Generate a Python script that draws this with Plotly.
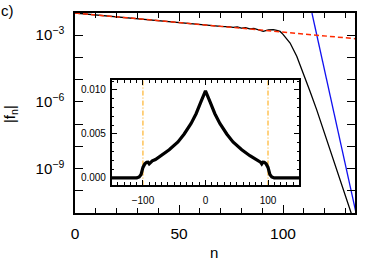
import plotly.graph_objects as go

# ---- main panel data (n, log10|f_n|) ----
n_main = [0, 10, 20, 30, 40, 50, 60, 70, 74.5, 76, 78, 80, 82, 84, 86, 88, 90.5, 93, 95.3, 97,
          98.6, 100, 103.4, 106.6, 109.8, 113, 116.2, 119.4, 122.6, 125.8, 129, 132.5, 134]
log_fn_main = [-2.0, -2.09, -2.17, -2.26, -2.34, -2.43, -2.51, -2.60, -2.62, -2.645, -2.63, -2.68,
               -2.665, -2.71, -2.695, -2.76, -2.83, -2.76, -2.75, -2.78,
               -2.83, -2.96, -3.35, -3.95, -4.70, -5.53, -6.36, -7.26, -8.16, -9.06, -9.96, -10.94, -11.35]

# red dashed asymptote
n_red = [0, 135]
log_fn_red = [-2.0, -3.16]

# blue line
n_blue = [113.9, 135.1]
log_fn_blue = [-2.0, -11.0]

# ---- inset data (n, f_n) ----
n_inset = [-150, -110, -106, -103, -100, -97, -94, -92, -90, -88, -85, -80, -71, -58, -44, -34, -23, -15, -7, 0,
           7, 15, 23, 34, 44, 58, 71, 80, 85, 88, 90, 92, 94, 97, 100, 103, 106, 110, 150]
f_inset = [0.0, 0.0, 0.00012, 0.0004, 0.0012, 0.0016, 0.00178, 0.0018, 0.0016, 0.0018, 0.00195, 0.0021,
           0.00253, 0.0032, 0.0041, 0.0050, 0.0062, 0.0073, 0.0087, 0.0099,
           0.0087, 0.0073, 0.0062, 0.0050, 0.0041, 0.0032, 0.00253, 0.0021, 0.00195, 0.0018, 0.0016,
           0.0018, 0.00178, 0.0016, 0.0012, 0.0004, 0.00012, 0.0, 0.0]
vlines_inset = [-100, 100]

main_ytick_exp = [-2, -3, -4, -5, -6, -7, -8, -9, -10, -11]
main_ytick_labels = {-3: "10<sup>−3</sup>", -6: "10<sup>−6</sup>", -9: "10<sup>−9</sup>"}
main_xticks = [0, 50, 100]
inset_xticks = [-100, 0, 100]
inset_yticks = [0.0, 0.005, 0.010]

FONT = "Liberation Sans"

fig = go.Figure()
fig.add_trace(go.Scatter(x=n_main, y=[10 ** v for v in log_fn_main], mode="lines",
                         line=dict(color="black", width=1.3), xaxis="x", yaxis="y"))
fig.add_trace(go.Scatter(x=n_blue, y=[10 ** v for v in log_fn_blue], mode="lines",
                         line=dict(color="#1010f0", width=1.3), xaxis="x", yaxis="y"))
fig.add_trace(go.Scatter(x=n_red, y=[10 ** v for v in log_fn_red], mode="lines",
                         line=dict(color="#ff2a00", width=1.5, dash="5px,3px"), xaxis="x", yaxis="y"))

for xv in vlines_inset:
    fig.add_trace(go.Scatter(x=[xv, xv], y=[-0.002, 0.012], mode="lines",
                             line=dict(color="#ffa500", width=1, dash="5px,2px,1px,2px"),
                             xaxis="x2", yaxis="y2"))
fig.add_trace(go.Scatter(x=n_inset, y=f_inset, mode="lines",
                         line=dict(color="black", width=3.2), xaxis="x2", yaxis="y2"))

axis_common = dict(showline=True, linecolor="black", linewidth=1.5, mirror="allticks",
                   ticks="inside", tickcolor="black", showgrid=False, zeroline=False,
                   automargin=False)

fig.update_layout(
    width=374, height=267,
    margin=dict(l=75, r=19, t=13, b=54, autoexpand=False),
    paper_bgcolor="white", plot_bgcolor="white",
    showlegend=False,
    font=dict(family=FONT, color="black"),
    xaxis=dict(**axis_common, range=[0, 134.6], tickvals=main_xticks, ticklen=8, tickwidth=1,
               minor=dict(dtick=10, ticklen=5, tickcolor="black", ticks="inside"),
               tickfont=dict(size=15.5), ticklabelstandoff=6),
    yaxis=dict(**axis_common, type="log", range=[-11, -2],
               tickvals=[10 ** e for e in main_ytick_exp],
               ticktext=[main_ytick_labels.get(e, "") for e in main_ytick_exp],
               ticklen=8, tickwidth=1, tickfont=dict(size=15), ticklabelstandoff=6),
    xaxis2=dict(**axis_common, domain=[0.131, 0.801], anchor="y2", range=[-150, 150],
                tickvals=inset_xticks, ticklen=5, tickwidth=1,
                minor=dict(dtick=10, ticklen=3, tickcolor="black", ticks="inside"),
                tickfont=dict(size=10), ticklabelstandoff=5),
    yaxis2=dict(**axis_common, domain=[0.14, 0.665], anchor="x2", range=[-0.0008, 0.01113],
                tickvals=inset_yticks, tickformat=".3f", ticklen=6, tickwidth=1,
                minor=dict(dtick=0.001, tick0=0, ticklen=3, tickcolor="black", ticks="inside"),
                tickfont=dict(size=10), ticklabelstandoff=2),
    annotations=[
        dict(text="n", xref="paper", yref="paper", x=0.496, y=-0.195, showarrow=False,
             font=dict(size=15), xanchor="center", yanchor="middle"),
        dict(text="|f<sub>n</sub>|", xref="paper", yref="paper", x=-0.232, y=0.495, showarrow=False,
             textangle=-90, font=dict(size=15), xanchor="center", yanchor="middle"),
        dict(text="c)", xref="paper", yref="paper", x=-0.24, y=1.01, showarrow=False,
             font=dict(size=15), xanchor="center", yanchor="middle"),
    ],
)

fig.write_html("out.html", config={"displayModeBar": False},
               post_script="document.body.style.margin='0';document.body.style.overflow='hidden';")
